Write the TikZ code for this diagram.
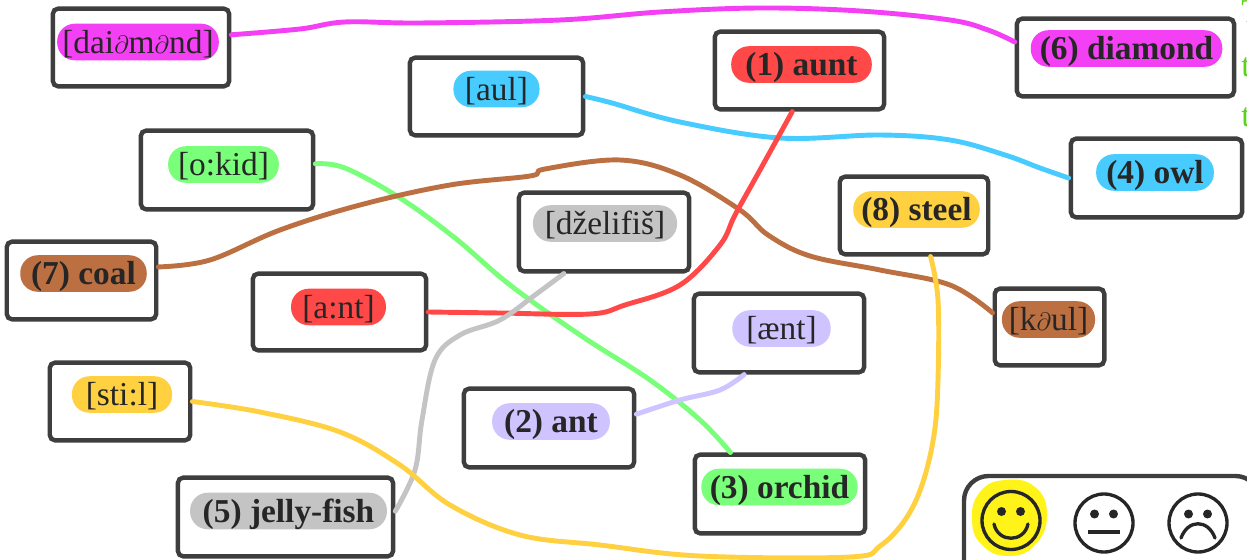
\documentclass[tikz,border=0pt]{standalone}
\usepackage{fontspec}
\setmainfont{Liberation Serif}
\usepackage{tikz}
\definecolor{inkgray}{RGB}{62,62,62}
\definecolor{cMagenta}{RGB}{244,64,244}
\definecolor{cRed}{RGB}{255,72,72}
\definecolor{cBlue}{RGB}{72,204,255}
\definecolor{cGreen}{RGB}{122,255,122}
\definecolor{cBrown}{RGB}{188,112,66}
\definecolor{cGray}{RGB}{196,196,196}
\definecolor{cLav}{RGB}{207,196,255}
\definecolor{cYellow}{RGB}{255,208,64}
\definecolor{cEdge}{RGB}{90,210,30}
\tikzset{
  wordbox/.style = {draw=inkgray, line width=2.5pt, rounded corners=3pt, fill=white, inner sep=0pt},
  pill/.style = {fill=#1, rounded corners=10pt, inner sep=0pt, text=black!85, text height=15pt, text depth=2pt, minimum height=20.8pt, font=\fontsize{19}{21}\selectfont},
  wire/.style = {draw=#1, line width=2.8pt, line cap=round},
  edgeletter/.style = {anchor=west, text=cEdge, inner sep=0pt, font=\fontsize{19}{21}\selectfont}
}
\newcommand{\Word}[5]{\node[wordbox, minimum width=#4*0.567pt, minimum height=#5*0.567pt] (#1) at (#2,#3) {};}
\newcommand{\Dl}{{\fontsize{15}{15}\selectfont$\partial$}}
\begin{document}
\begin{tikzpicture}[x=0.02cm,y=-0.02cm]
\useasboundingbox (0,0) rectangle (1247,560);
% boxes
\Word{bDai}{141}{47.5}{177}{78}
\Word{bAul}{496.5}{96.5}{174}{78}
\Word{bOkid}{227}{170}{173}{79}
\Word{bCoal}{81.5}{280.5}{150}{78}
\Word{bAnt}{339.5}{312}{174}{77}
\Word{bJelly}{604}{232}{171}{79}
\Word{bAe}{779}{333}{171}{79}
\Word{bStil}{120}{401.5}{141}{78}
\Word{bTwo}{549}{428}{171}{79}
\Word{bFive}{285.5}{517}{216}{79}
\Word{bThree}{780}{494}{171}{79}
\Word{bOne}{799.5}{70.5}{170}{78}
\Word{bSix}{1125.5}{57.5}{218}{78}
\Word{bFour}{1156.5}{178}{172}{79}
\Word{bEight}{914}{215.5}{149}{78}
\Word{bKaul}{1049.5}{327}{110}{77}
% labels
\node[pill=cMagenta, minimum width=92pt] (lDai) at (138,42) {[dai\Dl m\Dl nd]};
\node[pill=cBlue, minimum width=49pt] (lAul) at (496.5,89) {[aul]};
\node[pill=cGreen, minimum width=63pt] (lOkid) at (223.5,164.5) {[o:kid]};
\node[pill=cBrown, minimum width=72pt] (lCoal) at (83.5,273.5) {\textbf{(7) coal}};
\node[pill=cRed, minimum width=54pt] (lAnt) at (338.5,307) {[a:nt]};
\node[pill=cGray, minimum width=82pt] (lJelly) at (605,223.5) {[d\v{z}elifi\v{s}]};
\node[pill=cLav, minimum width=56pt] (lAe) at (781.5,328.5) {[\ae nt]};
\node[pill=cYellow, minimum width=57pt] (lStil) at (122,394.5) {[sti:l]};
\node[pill=cLav, minimum width=67pt] (lTwo) at (551,421.5) {\textbf{(2) ant}};
\node[pill=cGray, minimum width=112pt] (lFive) at (288.5,511) {\textbf{(5) jelly-fish}};
\node[pill=cGreen, minimum width=89pt] (lThree) at (779.5,487) {\textbf{(3) orchid}};
\node[pill=cRed, minimum width=80pt] (lOne) at (801.5,64.5) {\textbf{(1) aunt}};
\node[pill=cMagenta, minimum width=109pt] (lSix) at (1126.5,48.5) {\textbf{(6) diamond}};
\node[pill=cBlue, minimum width=67pt] (lFour) at (1155,172.5) {\textbf{(4) owl}};
\node[pill=cYellow, minimum width=72pt] (lEight) at (916.5,209.5) {\textbf{(8) steel}};
\node[pill=cBrown, minimum width=53pt] (lKaul) at (1048.5,319.5) {[k\Dl ul]};
% connectors
\draw[wire=cMagenta] plot[smooth, tension=.6] coordinates {(bDai.8) (300,29) (345,22) (420,23) (560,20) (660,12) (760,8) (860,11) (950,20) (988,30) (bSix.172)};
\draw[wire=cBlue] plot[smooth, tension=.6] coordinates {(bAul.east) (612,103) (680,122) (780,138) (880,135) (950,140) (1005,155) (1040,168) (bFour.west)};
\draw[wire=cGreen] plot[smooth, tension=.6] coordinates {(bOkid.4) (345,168) (400,198) (455,238) (510,285) (580,335) (650,380) (700,420) (bThree.140)};
\draw[wire=cBrown] plot[smooth, tension=.6] coordinates {(bCoal.10) (210,260) (280,230) (360,205) (450,185) (530,176) (545,169) (620,160) (680,175) (740,210) (768,235) (810,256) (880,270) (950,285) (bKaul.166)};
\draw[wire=cRed] plot[smooth, tension=.6] coordinates {(bAnt.east) (500,313) (590,314) (625,305) (680,285) (720,245) (735,215) (760,170) (bOne.260)};
\draw[wire=cGray] plot[smooth, tension=.6] coordinates {(bJelly.226) (535,295) (500,320) (460,335) (435,360) (422,420) (415,470) (bFive.3)};
\draw[wire=cLav] plot[smooth, tension=.6] coordinates {(bTwo.9) (680,400) (720,390) (bAe.230)};
\draw[wire=cYellow] plot[smooth, tension=.6] coordinates {(bStil.east) (260,412) (340,432) (400,465) (450,505) (520,535) (600,545) (700,556) (850,557) (880,546) (905,520) (922,485) (934,435) (938,380) (938,300) (bEight.292)};
% edge of the page
\node[edgeletter] (edgeA) at (1241,12) {T};
\node[edgeletter] (edgeB) at (1241,67) {t};
\node[edgeletter] (edgeC) at (1241,117) {t};
% faces
\draw[inkgray, line width=2.5pt, rounded corners=14pt] (964,570) -- (964,476) -- (1260,476) -- (1260,570);
\fill[yellow!90!white] plot[smooth cycle, tension=.8] coordinates {(1005,480) (1035,487) (1047,515) (1035,545) (1008,556) (982,545) (972,520) (980,492)};
\draw[black!85, line width=1.9pt] (1011,520.5) circle (29) (1104,523) circle (29) (1198,523) circle (29);
\foreach \cx/\cy in {1011/511.5, 1104/514, 1198/514} {
  \fill[black!85] (\cx-9.5,\cy) circle (4.5) (\cx+9.5,\cy) circle (4.5);
}
\draw[black!85, line width=1.9pt, line cap=round] (994,524) .. controls (998,543) and (1024,543) .. (1028,524);
\draw[black!85, line width=1.9pt] (1088,532) -- (1120,532);
\draw[black!85, line width=1.9pt, line cap=round] (1181,538) .. controls (1188,519) and (1208,519) .. (1215,538);
\end{tikzpicture}
\end{document}
